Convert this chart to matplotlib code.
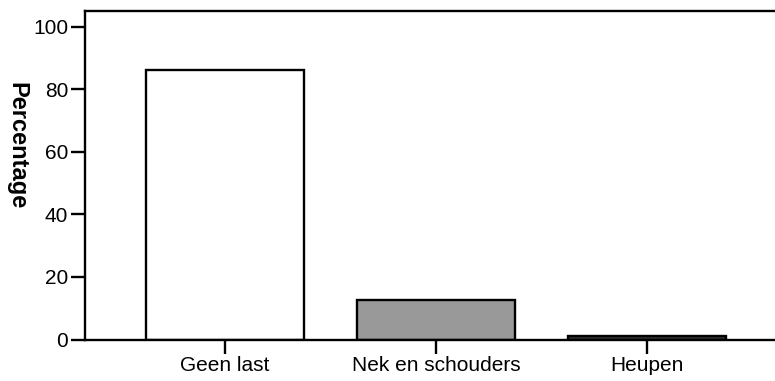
import matplotlib.pyplot as plt

# chart data
categories = ["Geen last", "Nek en schouders", "Heupen"]
percentages = [86.2, 12.6, 1.2]
bar_colors = ["white", "#999999", "#333333"]

plt.rcParams['font.family'] = ['Liberation Sans', 'DejaVu Sans']

fig = plt.figure(figsize=(7.75, 3.81), dpi=100)
ax = fig.add_axes([85 / 775, 1 - 339.5 / 381, 690 / 775, 328.5 / 381])

x = range(len(categories))
ax.bar(x, percentages, width=0.75, color=bar_colors, edgecolor='black', linewidth=1.7)

ax.set_xlim(-0.664, 2.607)
ax.set_ylim(0, 105)
ax.set_xticks(list(x))
ax.set_xticklabels(categories)
ax.set_yticks([0, 20, 40, 60, 80, 100])

ax.spines['right'].set_visible(False)
for side in ['left', 'bottom', 'top']:
    ax.spines[side].set_linewidth(1.7)
ax.tick_params(axis='both', length=10, width=1.7, labelsize=15, pad=2)

ax.set_ylabel('Percentage', fontsize=17, fontweight='bold', rotation=270)
ax.yaxis.set_label_coords(-0.116, 0.589)

fig.savefig('out.png', dpi=100)
